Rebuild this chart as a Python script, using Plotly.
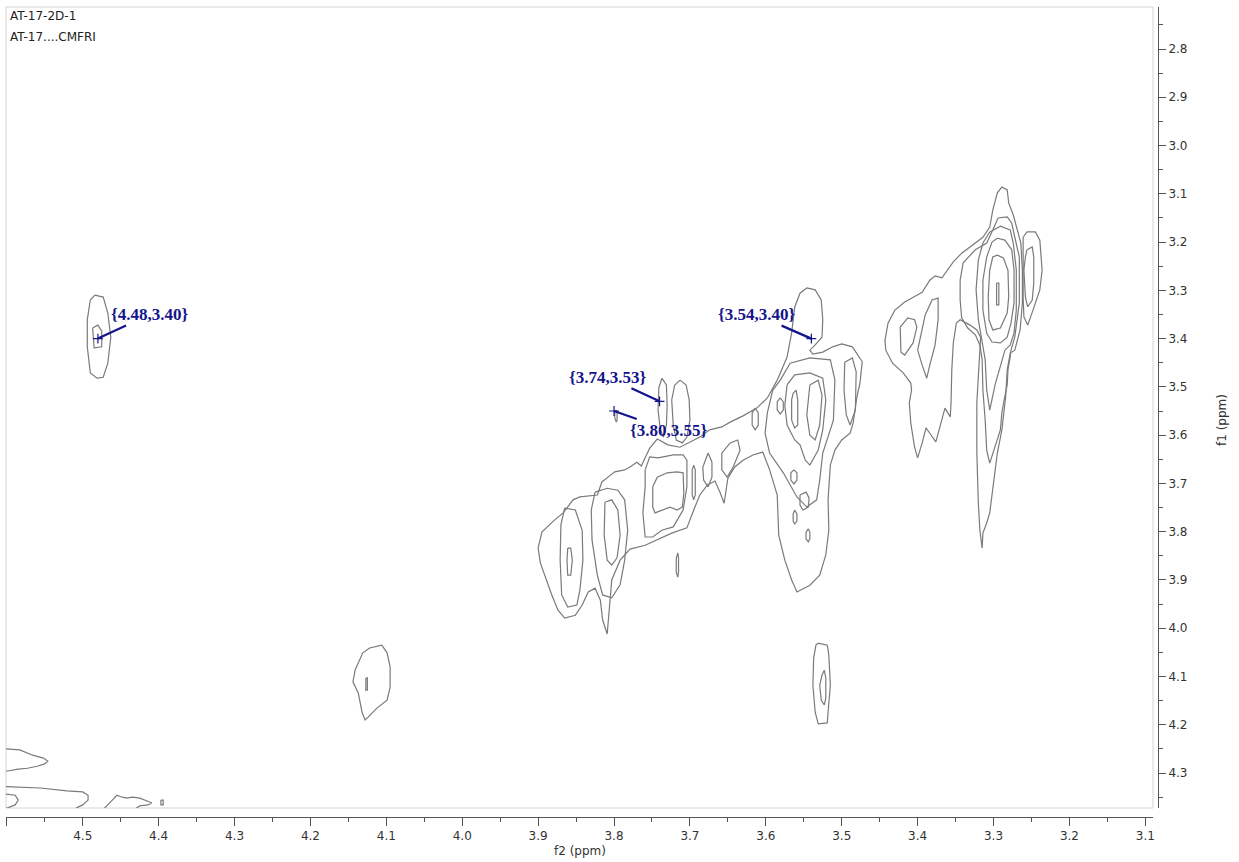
import plotly.graph_objects as go

# ---------------- digitized contour paths: (f2 ppm, f1 ppm) ----------------
peak_448_outer = [(4.484,3.310),(4.473,3.314),(4.467,3.347),(4.463,3.397),(4.467,3.451),(4.473,3.480),(4.481,3.482),(4.490,3.471),(4.494,3.417),(4.494,3.361),(4.490,3.320),(4.484,3.310)]
peak_448_inner = [(4.487,3.378),(4.480,3.372),(4.475,3.384),(4.475,3.417),(4.485,3.419),(4.487,3.388),(4.487,3.378)]

peak_412_outer = [(4.106,4.035),(4.099,4.051),(4.095,4.080),(4.095,4.122),(4.099,4.149),(4.112,4.165),(4.124,4.184),(4.128,4.190),(4.132,4.174),(4.137,4.134),(4.144,4.111),(4.141,4.086),(4.131,4.051),(4.122,4.041),(4.106,4.035)]
peak_412_inner = [(4.127,4.103),(4.125,4.103),(4.125,4.128),(4.127,4.128),(4.127,4.103)]

peak_353_outer = [(3.531,4.031),(3.519,4.035),(3.517,4.056),(3.515,4.118),(3.518,4.174),(3.519,4.196),(3.531,4.198),(3.535,4.174),(3.538,4.118),(3.537,4.062),(3.534,4.035),(3.531,4.031)]
peak_353_inner = [(3.523,4.087),(3.521,4.103),(3.521,4.145),(3.523,4.159),(3.527,4.149),(3.529,4.118),(3.526,4.097),(3.523,4.087)]

corner_a = [(4.615,4.248),(4.583,4.252),(4.566,4.263),(4.552,4.269),(4.546,4.275),(4.550,4.281),(4.560,4.286),(4.573,4.290),(4.585,4.292),(4.615,4.300)]
corner_b = [(4.615,4.327),(4.583,4.329),(4.556,4.331),(4.521,4.337),(4.500,4.339),(4.493,4.346),(4.493,4.356),(4.500,4.366),(4.508,4.372),(4.514,4.387)]
corner_c = [(4.615,4.341),(4.589,4.346),(4.585,4.356),(4.589,4.366),(4.599,4.372),(4.615,4.380)]
corner_d = [(4.475,4.387),(4.471,4.372),(4.461,4.356),(4.455,4.346),(4.448,4.350),(4.442,4.352),(4.434,4.350),(4.425,4.352),(4.415,4.358),(4.409,4.362),(4.414,4.366),(4.425,4.368),(4.429,4.372),(4.431,4.387)]
corner_e = [(4.397,4.356),(4.394,4.356),(4.394,4.366),(4.397,4.366),(4.397,4.356)]

g330_l1 = [(3.443,3.403),(3.439,3.368),(3.430,3.341),(3.417,3.324),(3.401,3.310),(3.394,3.304),(3.384,3.279),(3.377,3.270),(3.368,3.274),(3.361,3.258),(3.353,3.241),(3.342,3.223),(3.327,3.206),(3.314,3.190),(3.305,3.169),(3.301,3.134),(3.295,3.098),(3.289,3.086),(3.282,3.092),(3.280,3.119),(3.274,3.144),(3.269,3.171),(3.264,3.202),(3.262,3.258),(3.262,3.326),(3.265,3.382),(3.272,3.424),(3.278,3.430),(3.282,3.465),(3.284,3.521),(3.286,3.548),(3.289,3.589),(3.295,3.637),(3.301,3.707),(3.305,3.761),(3.309,3.782),(3.314,3.803),(3.315,3.834),(3.318,3.797),(3.320,3.741),(3.322,3.637),(3.322,3.533),(3.319,3.438),(3.317,3.397),(3.322,3.382),(3.331,3.372),(3.344,3.361),(3.349,3.368),(3.353,3.409),(3.355,3.465),(3.356,3.533),(3.357,3.562),(3.364,3.544),(3.369,3.575),(3.376,3.614),(3.384,3.596),(3.389,3.585),(3.394,3.616),(3.400,3.647),(3.404,3.625),(3.409,3.575),(3.411,3.533),(3.408,3.507),(3.409,3.492),(3.419,3.471),(3.433,3.451),(3.442,3.424),(3.443,3.403)]
g330_l2 = [(3.344,3.279),(3.340,3.243),(3.324,3.216),(3.309,3.202),(3.301,3.175),(3.294,3.150),(3.282,3.148),(3.276,3.161),(3.272,3.190),(3.266,3.231),(3.266,3.326),(3.272,3.397),(3.277,3.424),(3.278,3.438),(3.281,3.465),(3.282,3.496),(3.286,3.527),(3.289,3.554),(3.291,3.589),(3.298,3.625),(3.305,3.658),(3.309,3.631),(3.311,3.569),(3.314,3.507),(3.315,3.444),(3.318,3.413),(3.324,3.392),(3.334,3.378),(3.342,3.357),(3.344,3.320),(3.344,3.279)]
g330_l3 = [(3.305,3.179),(3.291,3.167),(3.278,3.175),(3.274,3.202),(3.270,3.258),(3.270,3.341),(3.273,3.389),(3.278,3.413),(3.285,3.424),(3.291,3.455),(3.298,3.496),(3.305,3.548),(3.309,3.506),(3.311,3.444),(3.315,3.403),(3.320,3.361),(3.323,3.299),(3.320,3.237),(3.314,3.202),(3.305,3.179)]
g330_l4 = [(3.295,3.192),(3.285,3.196),(3.276,3.216),(3.273,3.258),(3.273,3.326),(3.277,3.368),(3.282,3.397),(3.291,3.409),(3.302,3.407),(3.309,3.389),(3.314,3.341),(3.314,3.279),(3.309,3.231),(3.302,3.200),(3.295,3.192)]
g330_l5 = [(3.295,3.227),(3.287,3.233),(3.281,3.258),(3.280,3.314),(3.282,3.347),(3.291,3.378),(3.301,3.382),(3.306,3.361),(3.307,3.314),(3.305,3.258),(3.301,3.231),(3.295,3.227)]
g330_l6 = [(3.296,3.285),(3.293,3.285),(3.293,3.330),(3.296,3.330),(3.296,3.285)]
g326_outer = [(3.261,3.190),(3.256,3.179),(3.245,3.179),(3.239,3.196),(3.236,3.258),(3.239,3.299),(3.248,3.341),(3.255,3.372),(3.260,3.355),(3.261,3.314),(3.261,3.258),(3.261,3.190)]
g326_inner = [(3.256,3.216),(3.249,3.210),(3.247,3.231),(3.247,3.285),(3.249,3.320),(3.255,3.334),(3.258,3.314),(3.260,3.258),(3.258,3.231),(3.256,3.216)]
g342_loop = [(3.423,3.376),(3.413,3.357),(3.404,3.361),(3.401,3.376),(3.406,3.409),(3.417,3.434),(3.422,3.428),(3.423,3.397),(3.423,3.376)]
g338_spike = [(3.400,3.424),(3.390,3.351),(3.381,3.320),(3.373,3.316),(3.373,3.361),(3.377,3.413),(3.384,3.455),(3.388,3.482),(3.394,3.455),(3.400,3.424)]

ridge_outer = [(3.900,3.834),(3.895,3.801),(3.880,3.778),(3.867,3.761),(3.854,3.734),(3.845,3.728),(3.822,3.724),(3.816,3.697),(3.808,3.687),(3.799,3.676),(3.786,3.672),(3.779,3.666),(3.770,3.656),(3.764,3.664),(3.759,3.647),(3.753,3.627),(3.743,3.608),(3.729,3.620),(3.713,3.625),(3.700,3.614),(3.687,3.604),(3.674,3.589),(3.658,3.583),(3.647,3.573),(3.630,3.560),(3.612,3.544),(3.598,3.523),(3.585,3.486),(3.572,3.438),(3.566,3.388),(3.562,3.335),(3.555,3.306),(3.546,3.295),(3.535,3.299),(3.527,3.320),(3.525,3.361),(3.526,3.397),(3.535,3.413),(3.542,3.424),(3.538,3.432),(3.525,3.428),(3.512,3.417),(3.500,3.411),(3.486,3.417),(3.479,3.434),(3.473,3.448),(3.476,3.492),(3.480,3.521),(3.485,3.575),(3.489,3.596),(3.500,3.610),(3.509,3.631),(3.515,3.662),(3.518,3.734),(3.517,3.797),(3.521,3.848),(3.529,3.890),(3.542,3.911),(3.559,3.925),(3.566,3.900),(3.575,3.859),(3.583,3.807),(3.585,3.724),(3.595,3.672),(3.604,3.635),(3.617,3.641),(3.630,3.652),(3.641,3.666),(3.650,3.689),(3.655,3.741),(3.660,3.720),(3.667,3.695),(3.677,3.703),(3.687,3.724),(3.696,3.759),(3.704,3.792),(3.724,3.803),(3.743,3.817),(3.759,3.828),(3.779,3.836),(3.792,3.859),(3.803,3.900),(3.805,3.942),(3.807,3.983),(3.809,4.012),(3.815,3.983),(3.818,3.942),(3.825,3.917),(3.834,3.925),(3.842,3.952),(3.851,3.973),(3.865,3.979),(3.874,3.962),(3.882,3.931),(3.891,3.894),(3.897,3.865),(3.900,3.834)]
p385_l2 = [(3.865,3.751),(3.851,3.755),(3.842,3.797),(3.841,3.859),(3.845,3.921),(3.849,3.952),(3.861,3.956),(3.869,3.931),(3.871,3.859),(3.870,3.786),(3.865,3.751)]
p385_l3 = [(3.861,3.834),(3.857,3.834),(3.855,3.859),(3.857,3.890),(3.861,3.890),(3.862,3.859),(3.861,3.834)]
p380_l2 = [(3.825,3.718),(3.809,3.710),(3.795,3.714),(3.786,3.734),(3.782,3.797),(3.786,3.859),(3.792,3.910),(3.803,3.937),(3.815,3.931),(3.822,3.890),(3.829,3.817),(3.830,3.755),(3.825,3.718)]
p380_l3 = [(3.812,3.739),(3.803,3.734),(3.795,3.755),(3.792,3.807),(3.796,3.854),(3.803,3.869),(3.809,3.859),(3.813,3.807),(3.812,3.739)]
p374_l2 = [(3.759,3.672),(3.753,3.645),(3.742,3.647),(3.722,3.641),(3.709,3.641),(3.704,3.652),(3.704,3.707),(3.709,3.755),(3.722,3.790),(3.737,3.797),(3.749,3.811),(3.759,3.811),(3.762,3.761),(3.759,3.707),(3.759,3.672)]
p374_l3 = [(3.749,3.707),(3.743,3.687),(3.730,3.678),(3.717,3.676),(3.709,3.678),(3.708,3.720),(3.710,3.749),(3.717,3.755),(3.726,3.749),(3.735,3.755),(3.746,3.761),(3.749,3.749),(3.749,3.707)]
p370_narrow = [(3.695,3.662),(3.693,3.672),(3.693,3.724),(3.695,3.734),(3.697,3.724),(3.697,3.672),(3.695,3.662)]
p372_tiny = [(3.716,3.844),(3.715,3.855),(3.715,3.884),(3.716,3.894),(3.718,3.884),(3.718,3.855),(3.716,3.844)]
p374_upper = [(3.737,3.482),(3.731,3.496),(3.730,3.538),(3.731,3.579),(3.735,3.604),(3.739,3.589),(3.742,3.548),(3.741,3.502),(3.737,3.482)]
p371_upper = [(3.713,3.486),(3.705,3.496),(3.701,3.527),(3.700,3.569),(3.704,3.604),(3.710,3.616),(3.718,3.610),(3.722,3.579),(3.724,3.527),(3.720,3.496),(3.713,3.486)]
p380_tick = [(3.797,3.548),(3.796,3.556),(3.796,3.569),(3.797,3.573),(3.799,3.565),(3.799,3.554),(3.797,3.548)]
p368_loop = [(3.676,3.637),(3.671,3.656),(3.671,3.687),(3.676,3.707),(3.682,3.693),(3.683,3.666),(3.676,3.637)]
p364_loop = [(3.658,3.637),(3.647,3.616),(3.637,3.610),(3.634,3.631),(3.643,3.666),(3.651,3.687),(3.658,3.672),(3.658,3.637)]
p355_l2 = [(3.581,3.486),(3.568,3.451),(3.542,3.440),(3.515,3.444),(3.509,3.486),(3.511,3.569),(3.525,3.637),(3.529,3.693),(3.533,3.734),(3.546,3.749),(3.559,3.728),(3.577,3.678),(3.595,3.637),(3.601,3.596),(3.598,3.554),(3.591,3.507),(3.581,3.486)]
p355_l3 = [(3.572,3.496),(3.562,3.475),(3.542,3.471),(3.525,3.482),(3.521,3.527),(3.525,3.589),(3.531,3.631),(3.542,3.662),(3.548,3.652),(3.555,3.620),(3.562,3.610),(3.572,3.579),(3.575,3.538),(3.572,3.496)]
p356_l4 = [(3.564,3.513),(3.560,3.507),(3.558,3.527),(3.558,3.579),(3.562,3.585),(3.566,3.569),(3.566,3.527),(3.564,3.513)]
p353_l4 = [(3.542,3.496),(3.531,3.486),(3.526,3.517),(3.529,3.579),(3.535,3.610),(3.542,3.600),(3.546,3.558),(3.544,3.517),(3.542,3.496)]
p349_narrow = [(3.496,3.449),(3.486,3.440),(3.481,3.469),(3.482,3.548),(3.489,3.579),(3.494,3.558),(3.497,3.507),(3.496,3.449)]
blob_1 = [(3.614,3.544),(3.610,3.554),(3.610,3.579),(3.614,3.589),(3.618,3.579),(3.618,3.554),(3.614,3.544)]
blob_2 = [(3.581,3.523),(3.577,3.531),(3.577,3.548),(3.581,3.556),(3.585,3.548),(3.585,3.531),(3.581,3.523)]
blob_3 = [(3.563,3.672),(3.559,3.678),(3.559,3.693),(3.563,3.701),(3.567,3.693),(3.567,3.678),(3.563,3.672)]
blob_4 = [(3.555,3.724),(3.547,3.718),(3.543,3.730),(3.544,3.749),(3.551,3.755),(3.555,3.745),(3.555,3.724)]
blob_5 = [(3.562,3.755),(3.559,3.763),(3.559,3.778),(3.562,3.784),(3.564,3.778),(3.564,3.763),(3.562,3.755)]
blob_6 = [(3.544,3.794),(3.542,3.801),(3.542,3.815),(3.544,3.821),(3.547,3.815),(3.547,3.801),(3.544,3.794)]

contour_paths = [peak_448_outer, peak_448_inner, peak_412_outer, peak_412_inner, peak_353_outer, peak_353_inner,
                 corner_a, corner_b, corner_c, corner_d, corner_e,
                 g330_l1, g330_l2, g330_l3, g330_l4, g330_l5, g330_l6, g326_outer, g326_inner, g342_loop, g338_spike,
                 ridge_outer, p385_l2, p385_l3, p380_l2, p380_l3, p374_l2, p374_l3, p370_narrow, p372_tiny,
                 p374_upper, p371_upper, p380_tick, p368_loop, p364_loop, p355_l2, p355_l3, p356_l4, p353_l4,
                 p349_narrow, blob_1, blob_2, blob_3, blob_4, blob_5, blob_6]

# picked peaks
peak_f2 = [4.48, 3.74, 3.80, 3.54]
peak_f1 = [3.40, 3.53, 3.55, 3.40]
peak_labels = ["{4.48,3.40}", "{3.74,3.53}", "{3.80,3.55}", "{3.54,3.40}"]
label_offsets = [(52, -24), (-52, -24), (54, 19), (-55, -24)]

header_lines = ["AT-17-2D-1", "AT-17....CMFRI"]

# ---------------- figure ----------------
xs, ys = [], []
for path in contour_paths:
    for a, b in path:
        xs.append(a)
        ys.append(b)
    xs.append(None)
    ys.append(None)

fig = go.Figure()
fig.add_trace(go.Scatter(x=xs, y=ys, mode="lines", line=dict(color="#7a7a7a", width=1.2),
                         hoverinfo="skip", showlegend=False))
fig.add_trace(go.Scatter(x=peak_f2, y=peak_f1, mode="markers",
                         marker=dict(symbol="cross-thin", size=7, line=dict(color="#14148c", width=1.2)),
                         hoverinfo="skip", showlegend=False))

W, H = 1239, 862
ml, mr, mt, mb = 6, 81, 7, 45
pw, ph = W - ml - mr, H - mt - mb

def px2paper(px, py):
    return (px - ml) / pw, (H - mb - py) / ph

axis_font = dict(family="DejaVu Sans", size=12, color="#333333")
fig.update_layout(
    width=W, height=H, margin=dict(l=ml, r=mr, t=mt, b=mb),
    plot_bgcolor="white", paper_bgcolor="white", showlegend=False,
    xaxis=dict(domain=[0, (1153 - ml) / pw], range=[4.6011, 3.0899], anchor="free", position=0,
               showline=True, linecolor="#555555", linewidth=1, showgrid=False, zeroline=False,
               ticks="outside", ticklen=8, tickcolor="#555555", tick0=3.0, dtick=0.1, tickformat=".1f",
               minor=dict(ticks="outside", ticklen=4, dtick=0.05, tick0=3.0, tickcolor="#555555", showgrid=False),
               tickfont=axis_font),
    yaxis=dict(domain=[(817 - 808) / ph, 1], range=[4.3724, 2.7130], anchor="free", position=1, side="right",
               showline=True, linecolor="#555555", linewidth=1, showgrid=False, zeroline=False,
               ticks="outside", ticklen=7, tickcolor="#555555", tick0=2.8, dtick=0.1, tickformat=".1f",
               minor=dict(ticks="outside", ticklen=4, dtick=0.05, tick0=2.8, tickcolor="#555555", showgrid=False),
               tickfont=axis_font),
)

fig.add_shape(type="rect", xref="x domain", yref="y domain", x0=0, x1=1, y0=0, y1=1,
              line=dict(color="#d4d4d4", width=1), layer="below")

for txt, yy in zip(header_lines, [16, 37]):
    px, py = px2paper(8, yy)
    fig.add_annotation(x=px, y=py, xref="paper", yref="paper", text=txt, showarrow=False,
                       xanchor="left", yanchor="middle", font=dict(family="DejaVu Sans", size=12, color="#222222"))

px, py = px2paper(580, 851)
fig.add_annotation(x=px, y=py, xref="paper", yref="paper", text="f2 (ppm)", showarrow=False,
                   xanchor="center", yanchor="middle", font=axis_font)
px, py = px2paper(1222, 420)
fig.add_annotation(x=px, y=py, xref="paper", yref="paper", text="f1 (ppm)", showarrow=False, textangle=-90,
                   xanchor="center", yanchor="middle", font=axis_font)

for fx, fy, lab, (ax, ay) in zip(peak_f2, peak_f1, peak_labels, label_offsets):
    fig.add_annotation(x=fx, y=fy, xref="x", yref="y", text="<b>" + lab + "</b>", showarrow=True, ax=ax, ay=ay,
                       arrowhead=0, arrowwidth=2.2, arrowcolor="#14148c", standoff=0,
                       font=dict(family="Liberation Serif", size=17, color="#14148c"),
                       bgcolor="rgba(0,0,0,0)")

fig.write_html("out.html", config={"displayModeBar": False},
               post_script="document.body.style.margin='0px';")
